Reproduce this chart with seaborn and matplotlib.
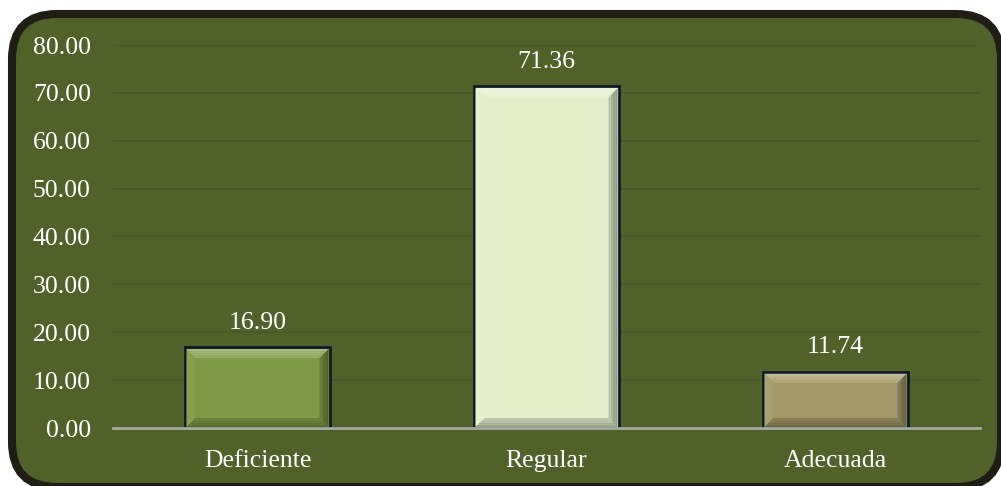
import matplotlib
matplotlib.use("Agg")
import matplotlib.pyplot as plt
import seaborn as sns
import pandas as pd
import numpy as np
from matplotlib.patches import FancyBboxPatch, Polygon
from matplotlib.colors import to_rgb

categories = ["Deficiente", "Regular", "Adecuada"]
values = [16.90, 71.36, 11.74]
tick_values = [0, 10, 20, 30, 40, 50, 60, 70, 80]
bar_colors = ["#7f9a45", "#e2efca", "#a19867"]

sns.set_theme(style="white")
plt.rcParams["font.family"] = ["Liberation Serif", "DejaVu Serif"]

BG = "#50622a"
fig = plt.figure(figsize=(10.01, 4.86), dpi=100)
fig.patch.set_facecolor("white")

# rounded frame behind the chart
W, H = 1001, 486
frame = FancyBboxPatch((12 / W, -1 / H), (W - 12) / W, 473 / H,
                       boxstyle="round,pad=0,rounding_size=0.045",
                       transform=fig.transFigure, facecolor=BG,
                       edgecolor="#1f1d14", linewidth=5.8, zorder=-5,
                       mutation_aspect=W / H)
fig.patches.append(frame)

ax = fig.add_axes([113 / W, (H - 428) / H, (980 - 113) / W, (428 - 45) / H])
ax.set_facecolor("none")
ax.set_zorder(2)

df = pd.DataFrame({"cat": categories, "val": values})
sns.barplot(data=df, x="cat", y="val", hue="cat", palette=bar_colors,
            width=0.505, edgecolor="#0f1a28", linewidth=2, ax=ax,
            legend=False, saturation=1, zorder=3)

ax.set_ylim(0, 80)
ax.set_xlim(-0.5, 2.5)
ax.set_yticks(tick_values)
ax.set_yticklabels([f"{v:.2f}" for v in tick_values])
ax.set_xlabel("")
ax.set_ylabel("")
for s in ["top", "right", "left"]:
    ax.spines[s].set_visible(False)
ax.spines["bottom"].set_color("#a3aaa0")
ax.spines["bottom"].set_linewidth(2)
ax.spines["bottom"].set_zorder(5)
ax.yaxis.grid(True, color="#455a2a", linewidth=1.2, zorder=0)
ax.set_axisbelow(True)
ax.tick_params(axis="y", length=0, pad=16, labelsize=18.5, labelcolor="white")
ax.tick_params(axis="x", length=0, pad=16, labelsize=18.5, labelcolor="white")

fig.canvas.draw()
inv = ax.transData.inverted()


def shade(c, f):
    r, g, b = to_rgb(c)
    if f > 0:
        return (r + (1 - r) * f, g + (1 - g) * f, b + (1 - b) * f)
    return (r * (1 + f), g * (1 + f), b * (1 + f))


def lerp(p, q, t):
    return (p[0] + (q[0] - p[0]) * t, p[1] + (q[1] - p[1]) * t)


bev = 9      # bevel width in pixels
steps = 4    # strips per bevel face, fading toward the flat top
for bar, col, v in zip(ax.patches, bar_colors, values):
    x0, x1 = bar.get_x(), bar.get_x() + bar.get_width()
    (px0, py0) = ax.transData.transform((x0, 0))
    (px1, py1) = ax.transData.transform((x1, bar.get_height()))
    px0 += 2; px1 -= 2; py1 -= 2; py0 += 1
    outer = [(px0, py1), (px1, py1), (px1, py0), (px0, py0)]
    inner = [(px0 + bev, py1 - bev), (px1 - bev, py1 - bev),
             (px1 - bev, py0 + bev), (px0 + bev, py0 + bev)]
    # (outer a, outer b, inner b, inner a), strength at the outer edge
    faces = [
        ((0, 1), 0.35),
        ((3, 0), 0.10),
        ((1, 2), -0.40),
        ((2, 3), -0.35),
    ]
    for (a, b), f in faces:
        for k in range(steps):
            t0, t1 = k / steps, (k + 1) / steps
            pts = [lerp(outer[a], inner[a], t0), lerp(outer[b], inner[b], t0),
                   lerp(outer[b], inner[b], t1), lerp(outer[a], inner[a], t1)]
            strength = f * (1 - (k + 0.5) / steps * 0.6)
            ax.add_patch(Polygon(inv.transform(np.array(pts)), closed=True,
                                 facecolor=shade(col, strength),
                                 edgecolor="none", zorder=4))
    ax.text(bar.get_x() + bar.get_width() / 2, v + 2.8, f"{v:.2f}",
            ha="center", va="bottom", color="white", fontsize=18.5, zorder=6)

fig.savefig("out.png", dpi=100, facecolor="white")
